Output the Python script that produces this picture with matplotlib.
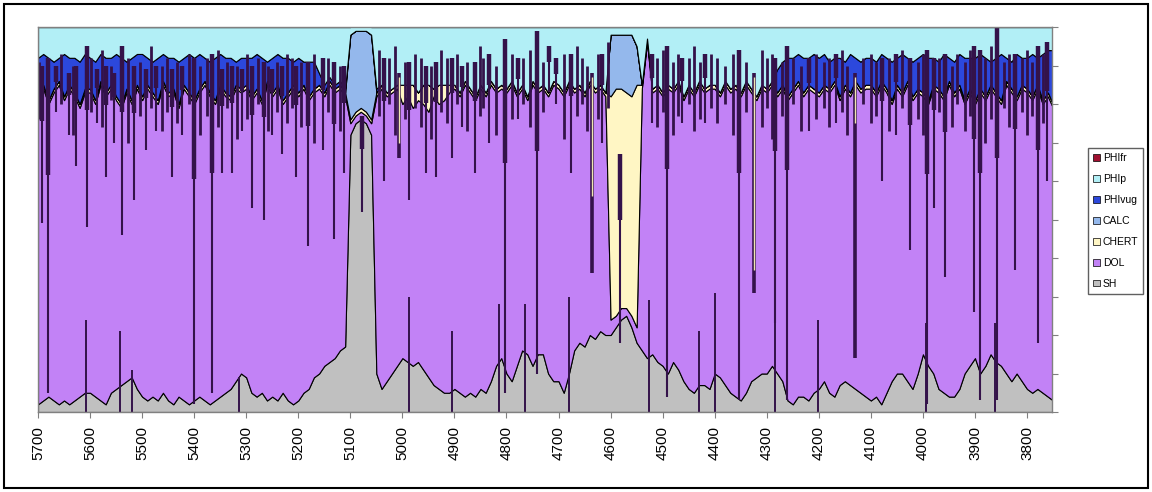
import numpy as np
import matplotlib.pyplot as plt
from matplotlib.patches import Rectangle

plt.rcParams['font.family'] = ['Liberation Sans', 'DejaVu Sans']

# depth samples (ft), every 10 ft from 5700 up to 3750
depth = np.arange(5700, 3749, -10)

# background volume fractions (one row = 100 ft)
sh = [
    0.02, 0.03, 0.04, 0.03, 0.02, 0.03, 0.02, 0.03, 0.04, 0.05,
    0.05, 0.04, 0.03, 0.02, 0.05, 0.06, 0.07, 0.08, 0.09, 0.06,
    0.04, 0.03, 0.04, 0.03, 0.05, 0.03, 0.02, 0.04, 0.03, 0.02,
    0.03, 0.04, 0.03, 0.02, 0.03, 0.04, 0.05, 0.06, 0.08, 0.10,
    0.09, 0.05, 0.04, 0.05, 0.03, 0.04, 0.03, 0.05, 0.03, 0.02,
    0.03, 0.05, 0.06, 0.09, 0.10, 0.12, 0.13, 0.14, 0.16, 0.17,
    0.72, 0.75, 0.76, 0.75, 0.72, 0.10, 0.06, 0.08, 0.10, 0.12,
    0.14, 0.13, 0.12, 0.13, 0.11, 0.09, 0.07, 0.06, 0.05, 0.05,
    0.06, 0.05, 0.04, 0.05, 0.04, 0.06, 0.05, 0.08, 0.12, 0.14,
    0.10, 0.08, 0.12, 0.16, 0.15, 0.12, 0.15, 0.15, 0.10, 0.08,
    0.08, 0.05, 0.10, 0.16, 0.18, 0.17, 0.20, 0.19, 0.21, 0.20,
    0.20, 0.22, 0.24, 0.25, 0.22, 0.18, 0.16, 0.14, 0.15, 0.13,
    0.12, 0.10, 0.13, 0.11, 0.08, 0.06, 0.05, 0.07, 0.07, 0.06,
    0.10, 0.09, 0.07, 0.05, 0.04, 0.03, 0.05, 0.08, 0.09, 0.10,
    0.10, 0.12, 0.10, 0.08, 0.03, 0.02, 0.04, 0.04, 0.03, 0.05,
    0.06, 0.08, 0.05, 0.04, 0.07, 0.08, 0.07, 0.06, 0.05, 0.04,
    0.03, 0.04, 0.02, 0.05, 0.08, 0.10, 0.10, 0.08, 0.06, 0.10,
    0.15, 0.12, 0.10, 0.06, 0.05, 0.04, 0.04, 0.06, 0.10, 0.12,
    0.14, 0.10, 0.12, 0.15, 0.13, 0.12, 0.10, 0.08, 0.10, 0.08,
    0.06, 0.05, 0.06, 0.05, 0.04, 0.03,
]
dol = [
    0.80, 0.81, 0.76, 0.80, 0.83, 0.78, 0.82, 0.79, 0.75, 0.78,
    0.78, 0.76, 0.82, 0.80, 0.79, 0.75, 0.72, 0.75, 0.71, 0.78,
    0.77, 0.81, 0.78, 0.77, 0.80, 0.79, 0.81, 0.75, 0.81, 0.80,
    0.77, 0.79, 0.82, 0.80, 0.77, 0.80, 0.77, 0.75, 0.76, 0.73,
    0.75, 0.76, 0.79, 0.75, 0.82, 0.78, 0.81, 0.75, 0.79, 0.82,
    0.79, 0.79, 0.75, 0.74, 0.74, 0.70, 0.72, 0.69, 0.68, 0.65,
    0.03, 0.02, 0.02, 0.02, 0.03, 0.72, 0.78, 0.74, 0.73, 0.72,
    0.66, 0.69, 0.67, 0.68, 0.69, 0.69, 0.75, 0.74, 0.76, 0.78,
    0.78, 0.77, 0.81, 0.78, 0.77, 0.78, 0.77, 0.77, 0.71, 0.70,
    0.73, 0.77, 0.70, 0.68, 0.66, 0.73, 0.68, 0.69, 0.72, 0.77,
    0.76, 0.77, 0.75, 0.67, 0.66, 0.65, 0.65, 0.64, 0.63, 0.62,
    0.04, 0.03, 0.03, 0.02, 0.03, 0.04, 0.68, 0.82, 0.68, 0.71,
    0.70, 0.74, 0.70, 0.74, 0.73, 0.78, 0.77, 0.78, 0.76, 0.78,
    0.74, 0.73, 0.78, 0.78, 0.80, 0.79, 0.80, 0.75, 0.72, 0.74,
    0.73, 0.73, 0.72, 0.76, 0.78, 0.81, 0.81, 0.78, 0.81, 0.78,
    0.76, 0.76, 0.78, 0.81, 0.74, 0.76, 0.75, 0.79, 0.78, 0.80,
    0.81, 0.78, 0.83, 0.78, 0.72, 0.74, 0.72, 0.77, 0.75, 0.73,
    0.67, 0.68, 0.74, 0.77, 0.76, 0.81, 0.78, 0.78, 0.70, 0.71,
    0.66, 0.73, 0.69, 0.69, 0.69, 0.68, 0.75, 0.75, 0.71, 0.76,
    0.77, 0.76, 0.78, 0.75, 0.78, 0.76,
]
chert = [
    0.01, 0.01, 0.01, 0.01, 0.01, 0.01, 0.01, 0.01, 0.01, 0.01,
    0.01, 0.01, 0.01, 0.01, 0.01, 0.01, 0.01, 0.01, 0.01, 0.01,
    0.01, 0.01, 0.01, 0.01, 0.01, 0.01, 0.01, 0.01, 0.01, 0.01,
    0.01, 0.01, 0.01, 0.01, 0.01, 0.01, 0.01, 0.01, 0.01, 0.01,
    0.01, 0.01, 0.01, 0.01, 0.01, 0.01, 0.01, 0.01, 0.01, 0.01,
    0.01, 0.01, 0.01, 0.01, 0.01, 0.01, 0.01, 0.01, 0.01, 0.01,
    0.01, 0.01, 0.01, 0.01, 0.01, 0.01, 0.01, 0.01, 0.01, 0.01,
    0.05, 0.03, 0.06, 0.02, 0.05, 0.07, 0.02, 0.05, 0.04, 0.02,
    0.01, 0.01, 0.01, 0.01, 0.01, 0.01, 0.01, 0.01, 0.01, 0.01,
    0.01, 0.01, 0.01, 0.01, 0.01, 0.01, 0.01, 0.01, 0.01, 0.01,
    0.01, 0.01, 0.01, 0.01, 0.01, 0.01, 0.01, 0.01, 0.01, 0.01,
    0.58, 0.59, 0.57, 0.56, 0.57, 0.63, 0.01, 0.01, 0.01, 0.01,
    0.01, 0.01, 0.01, 0.01, 0.01, 0.01, 0.01, 0.01, 0.01, 0.01,
    0.01, 0.01, 0.01, 0.01, 0.01, 0.01, 0.01, 0.01, 0.01, 0.01,
    0.01, 0.01, 0.01, 0.01, 0.01, 0.01, 0.01, 0.01, 0.01, 0.01,
    0.01, 0.01, 0.01, 0.01, 0.01, 0.01, 0.01, 0.01, 0.01, 0.01,
    0.01, 0.01, 0.01, 0.01, 0.01, 0.01, 0.01, 0.01, 0.01, 0.01,
    0.01, 0.01, 0.01, 0.01, 0.01, 0.01, 0.01, 0.01, 0.01, 0.01,
    0.01, 0.01, 0.01, 0.01, 0.01, 0.01, 0.01, 0.01, 0.01, 0.01,
    0.01, 0.01, 0.01, 0.01, 0.01, 0.01,
]
calc = [
    0, 0, 0, 0, 0, 0, 0, 0, 0, 0,
    0, 0, 0, 0, 0, 0, 0, 0, 0, 0,
    0, 0, 0, 0, 0, 0, 0, 0, 0, 0,
    0, 0, 0, 0, 0, 0, 0, 0, 0, 0,
    0, 0, 0, 0, 0, 0, 0, 0, 0, 0,
    0, 0, 0, 0, 0, 0, 0, 0, 0, 0,
    0.22, 0.21, 0.20, 0.21, 0.22, 0, 0, 0, 0, 0,
    0, 0, 0, 0, 0, 0, 0, 0, 0, 0,
    0, 0, 0, 0, 0, 0, 0, 0, 0, 0,
    0, 0, 0, 0, 0, 0, 0, 0, 0, 0,
    0, 0, 0, 0, 0, 0, 0, 0, 0, 0,
    0.16, 0.14, 0.14, 0.15, 0.16, 0.10, 0, 0, 0, 0,
    0, 0, 0, 0, 0, 0, 0, 0, 0, 0,
    0, 0, 0, 0, 0, 0, 0, 0, 0, 0,
    0, 0, 0, 0, 0, 0, 0, 0, 0, 0,
    0, 0, 0, 0, 0, 0, 0, 0, 0, 0,
    0, 0, 0, 0, 0, 0, 0, 0, 0, 0,
    0, 0, 0, 0, 0, 0, 0, 0, 0, 0,
    0, 0, 0, 0, 0, 0, 0, 0, 0, 0,
    0, 0, 0, 0, 0, 0,
]
phi_vug = [
    0.09, 0.08, 0.11, 0.07, 0.06, 0.11, 0.07, 0.09, 0.11, 0.09,
    0.08, 0.10, 0.07, 0.09, 0.07, 0.11, 0.12, 0.07, 0.11, 0.08,
    0.11, 0.07, 0.08, 0.11, 0.07, 0.09, 0.08, 0.11, 0.07, 0.10,
    0.11, 0.09, 0.06, 0.08, 0.11, 0.08, 0.09, 0.10, 0.06, 0.08,
    0.07, 0.10, 0.09, 0.11, 0.05, 0.09, 0.08, 0.11, 0.09, 0.06,
    0.09, 0.06, 0.09, 0.07, 0.03, 0.02, 0.01, 0.01, 0.01, 0.01,
    0, 0, 0, 0, 0, 0.01, 0, 0, 0, 0,
    0, 0, 0, 0, 0, 0, 0, 0, 0, 0,
    0, 0, 0, 0, 0, 0, 0, 0, 0, 0,
    0, 0, 0, 0, 0, 0, 0, 0, 0, 0,
    0, 0, 0, 0, 0, 0, 0, 0, 0, 0,
    0, 0, 0, 0, 0, 0, 0, 0, 0, 0,
    0, 0, 0, 0, 0, 0, 0, 0, 0, 0,
    0, 0, 0, 0, 0, 0, 0, 0, 0, 0,
    0, 0, 0.06, 0.06, 0.10, 0.08, 0.07, 0.09, 0.07, 0.09,
    0.09, 0.08, 0.07, 0.06, 0.10, 0.06, 0.10, 0.06, 0.07, 0.07,
    0.07, 0.08, 0.07, 0.08, 0.10, 0.07, 0.10, 0.06, 0.09, 0.08,
    0.10, 0.11, 0.07, 0.07, 0.11, 0.06, 0.08, 0.08, 0.11, 0.08,
    0.11, 0.09, 0.10, 0.06, 0.09, 0.12, 0.06, 0.07, 0.11, 0.07,
    0.08, 0.11, 0.07, 0.12, 0.11, 0.14,
]
phi_p = [
    0.08, 0.07, 0.08, 0.09, 0.08, 0.07, 0.08, 0.08, 0.09, 0.07,
    0.08, 0.09, 0.07, 0.08, 0.08, 0.07, 0.08, 0.09, 0.08, 0.07,
    0.07, 0.08, 0.09, 0.08, 0.07, 0.08, 0.08, 0.09, 0.08, 0.07,
    0.08, 0.07, 0.08, 0.09, 0.08, 0.07, 0.08, 0.08, 0.09, 0.08,
    0.08, 0.08, 0.07, 0.08, 0.09, 0.08, 0.07, 0.08, 0.08, 0.09,
    0.08, 0.09, 0.09, 0.09, 0.12, 0.15, 0.13, 0.15, 0.14, 0.16,
    0.02, 0.02, 0.02, 0.02, 0.02, 0.16, 0.15, 0.17, 0.16, 0.15,
    0.15, 0.15, 0.15, 0.17, 0.15, 0.15, 0.16, 0.15, 0.15, 0.15,
    0.15, 0.17, 0.14, 0.16, 0.18, 0.15, 0.17, 0.14, 0.16, 0.15,
    0.16, 0.14, 0.17, 0.15, 0.18, 0.14, 0.16, 0.15, 0.17, 0.14,
    0.15, 0.17, 0.14, 0.16, 0.15, 0.17, 0.14, 0.16, 0.15, 0.17,
    0.02, 0.02, 0.02, 0.02, 0.02, 0.05, 0.15, 0.03, 0.16, 0.15,
    0.17, 0.15, 0.16, 0.14, 0.18, 0.15, 0.17, 0.14, 0.16, 0.15,
    0.15, 0.17, 0.14, 0.16, 0.15, 0.17, 0.14, 0.16, 0.18, 0.15,
    0.16, 0.14, 0.11, 0.09, 0.08, 0.08, 0.07, 0.08, 0.08, 0.07,
    0.08, 0.07, 0.09, 0.08, 0.08, 0.09, 0.07, 0.08, 0.09, 0.08,
    0.08, 0.09, 0.07, 0.08, 0.09, 0.08, 0.07, 0.08, 0.09, 0.08,
    0.07, 0.08, 0.08, 0.09, 0.07, 0.08, 0.09, 0.07, 0.08, 0.08,
    0.08, 0.07, 0.08, 0.09, 0.08, 0.07, 0.08, 0.09, 0.07, 0.08,
    0.08, 0.07, 0.08, 0.07, 0.06, 0.06,
]
# fracture porosity is not visible anywhere on the log
phi_fr = [0.0] * len(depth)

# thin dark beds cutting down from the top of the dolomite
dip_depth = [5693, 5681, 5665, 5640, 5627, 5605, 5586, 5570, 5554, 5538,
             5515, 5493, 5474, 5442, 5423, 5400, 5365, 5346, 5327, 5308,
             5289, 5266, 5250, 5231, 5204, 5182, 5153, 5131, 5112, 5077,
             5035, 4987, 4955, 4936, 4904, 4885, 4860, 4834, 4802, 4777,
             4741, 4718, 4705, 4677, 4616, 4581, 4520, 4491, 4463, 4418,
             4354, 4284, 4262, 4218, 4167, 4078, 4052, 4024, 3992, 3979,
             3957, 3902, 3890, 3858, 3823, 3778, 3762]
dip_bottom = [0.49, 0.05, 0.78, 0.72, 0.64, 0.48, 0.75, 0.61, 0.70, 0.46,
              0.55, 0.68, 0.73, 0.61, 0.72, 0.02, 0.05, 0.62, 0.62, 0.73,
              0.53, 0.50, 0.72, 0.67, 0.61, 0.43, 0.68, 0.45, 0.62, 0.52,
              0.60, 0.55, 0.62, 0.61, 0.66, 0.74, 0.62, 0.70, 0.05, 0.76,
              0.10, 0.83, 0.80, 0.62, 0.70, 0.18, 0.75, 0.04, 0.75, 0.75,
              0.03, 0.23, 0.03, 0.73, 0.75, 0.60, 0.72, 0.42, 0.02, 0.53,
              0.35, 0.26, 0.03, 0.03, 0.37, 0.18, 0.60]
dip_top = [0.90, 0.92, 0.90, 0.88, 0.90, 0.95, 0.89, 0.90, 0.88, 0.95,
           0.90, 0.89, 0.90, 0.89, 0.90, 0.92, 0.93, 0.89, 0.90, 0.89,
           0.90, 0.91, 0.89, 0.90, 0.90, 0.91, 0.92, 0.91, 0.90, 0.77,
           0.92, 0.91, 0.90, 0.91, 0.92, 0.90, 0.91, 0.93, 0.97, 0.92,
           0.99, 0.95, 0.92, 0.93, 0.93, 0.67, 0.93, 0.95, 0.92, 0.93,
           0.94, 0.92, 0.95, 0.92, 0.93, 0.92, 0.93, 0.92, 0.94, 0.92,
           0.93, 0.95, 0.94, 1.00, 0.93, 0.95, 0.96]

# short streaks that make the dark fringe at the top of the dolomite
fringe_depth = [5698, 5655, 5632, 5598, 5578, 5560, 5528, 5505, 5483, 5462,
                5452, 5433, 5410, 5388, 5375, 5355, 5336, 5318, 5298, 5278,
                5258, 5240, 5222, 5212, 5195, 5170, 5142, 5120, 5045, 5025,
                5015, 4995, 4975, 4965, 4945, 4925, 4915, 4895, 4875, 4850,
                4845, 4820, 4790, 4768, 4755, 4730, 4690, 4665, 4655, 4645,
                4625, 4605, 4510, 4500, 4480, 4470, 4450, 4440, 4428, 4408,
                4395, 4380, 4365, 4340, 4310, 4300, 4290, 4270, 4250, 4235,
                4205, 4190, 4180, 4155, 4145, 4115, 4100, 4090, 4065, 4040,
                4010, 4000, 3970, 3945, 3935, 3920, 3910, 3880, 3870, 3845,
                3835, 3810, 3800, 3790, 3770]
fringe_bottom = [0.76, 0.80, 0.72, 0.78, 0.74, 0.81, 0.70, 0.77, 0.79, 0.73,
                 0.78, 0.75, 0.80, 0.72, 0.77, 0.74, 0.79, 0.71, 0.76, 0.80,
                 0.73, 0.78, 0.75, 0.79, 0.74, 0.70, 0.78, 0.73, 0.77, 0.80,
                 0.72, 0.76, 0.79, 0.74, 0.71, 0.78, 0.75, 0.80, 0.73, 0.77,
                 0.79, 0.72, 0.76, 0.80, 0.74, 0.78, 0.71, 0.77, 0.80, 0.73,
                 0.76, 0.79, 0.74, 0.78, 0.72, 0.77, 0.80, 0.73, 0.76, 0.79,
                 0.75, 0.80, 0.72, 0.78, 0.74, 0.79, 0.71, 0.77, 0.80, 0.73,
                 0.76, 0.79, 0.74, 0.78, 0.72, 0.80, 0.75, 0.77, 0.73, 0.79,
                 0.76, 0.72, 0.78, 0.74, 0.80, 0.73, 0.77, 0.70, 0.76, 0.79,
                 0.74, 0.78, 0.72, 0.77, 0.75]
fringe_top = [0.91, 0.93, 0.90, 0.92, 0.94, 0.90, 0.92, 0.91, 0.95, 0.90,
              0.92, 0.91, 0.93, 0.90, 0.92, 0.94, 0.91, 0.90, 0.93, 0.92,
              0.90, 0.91, 0.93, 0.92, 0.91, 0.93, 0.92, 0.90, 0.94, 0.92,
              0.95, 0.91, 0.93, 0.92, 0.90, 0.94, 0.92, 0.93, 0.91, 0.95,
              0.92, 0.90, 0.93, 0.92, 0.94, 0.91, 0.93, 0.95, 0.92, 0.90,
              0.93, 0.96, 0.92, 0.94, 0.91, 0.93, 0.92, 0.95, 0.91, 0.93,
              0.92, 0.90, 0.93, 0.91, 0.94, 0.92, 0.93, 0.91, 0.92, 0.90,
              0.93, 0.91, 0.92, 0.94, 0.90, 0.92, 0.93, 0.91, 0.92, 0.94,
              0.91, 0.93, 0.92, 0.90, 0.93, 0.91, 0.94, 0.92, 0.95, 0.91,
              0.93, 0.92, 0.94, 0.91, 0.93]

# thin chert beds (light top part, dark lower part)
streak_depth = [5006, 4635, 4325, 4130]
streak_light_bottom = [0.70, 0.56, 0.37, 0.75]
streak_dark_bottom = [0.66, 0.36, 0.31, 0.14]

# thin shale spikes rising from the base
spike_depth = [5608, 5542, 5519, 5314, 4987, 4904, 4815, 4764, 4680, 4527,
               4431, 4399, 4284, 4202, 3995, 3861]
spike_top = [0.24, 0.21, 0.11, 0.09, 0.30, 0.21, 0.28, 0.28, 0.30, 0.29,
             0.21, 0.31, 0.24, 0.24, 0.23, 0.23]

labels = ['SH', 'DOL', 'CHERT', 'CALC', 'PHIvug', 'PHIp', 'PHIfr']
colors = ['#c0c0c0', '#c282f6', '#fff6c4', '#94b8ec', '#2c48dc', '#b2eff6', '#a01030']
dark = '#34124a'
depth_ticks = list(range(5700, 3799, -100))

fig = plt.figure(figsize=(11.52, 4.92), dpi=100)
ax = fig.add_axes([38 / 1152, 1 - 412 / 492, 1014 / 1152, 385 / 492])

ax.stackplot(depth, sh, dol, chert, calc, phi_vug, phi_p, phi_fr,
             colors=colors, labels=labels, edgecolor='black', linewidth=0.8)

# dark beds: thin full length, wider near the top where they taper in
dip_top_arr = np.array(dip_top)
dip_mid = dip_top_arr - 0.35 * (dip_top_arr - np.array(dip_bottom))
ax.vlines(fringe_depth, fringe_bottom, fringe_top, colors=dark, linewidth=2.0)
ax.vlines(dip_depth, dip_bottom, dip_top, colors=dark, linewidth=1.5)
ax.vlines(dip_depth, dip_mid, dip_top, colors=dark, linewidth=3.2)
ax.vlines(streak_depth, streak_dark_bottom, 0.88, colors=dark, linewidth=2.6)
ax.vlines(streak_depth, streak_light_bottom, 0.87, colors='#efe6b0', linewidth=1.0)
ax.vlines(spike_depth, 0, spike_top, colors=dark, linewidth=1.4)

ax.set_xlim(5700, 3752)
ax.set_ylim(0, 1)
ax.set_xticks(depth_ticks)
ax.set_xticklabels([str(d) for d in depth_ticks], rotation=90, fontsize=11)
ax.tick_params(axis='x', direction='out', length=4, width=0.8, color='#808080', pad=6)
ax.yaxis.tick_right()
ax.set_yticks(np.arange(0, 1.01, 0.1))
ax.tick_params(axis='y', direction='out', length=4, width=0.8, color='#808080', labelright=False)
for s in ax.spines.values():
    s.set_color('#808080')
    s.set_linewidth(1.0)

handles, labs = ax.get_legend_handles_labels()
leg = fig.legend(handles[::-1], labs[::-1], loc='center left',
                 bbox_to_anchor=(1083 / 1152, 1 - 221 / 492), fontsize=7.5,
                 handlelength=0.6, handleheight=0.6, handletextpad=0.3,
                 labelspacing=1.05, borderpad=0.5, fancybox=False, framealpha=1)
leg.get_frame().set_edgecolor('#606060')
leg.get_frame().set_linewidth(1.0)
for h in leg.legend_handles:
    h.set_linewidth(0.5)

# outer chart border
fig.patches.append(Rectangle((4 / 1152, 4 / 492), 1144 / 1152, 484 / 492,
                             transform=fig.transFigure, fill=False,
                             edgecolor='black', linewidth=1.5))

fig.savefig('out.png', dpi=100)
